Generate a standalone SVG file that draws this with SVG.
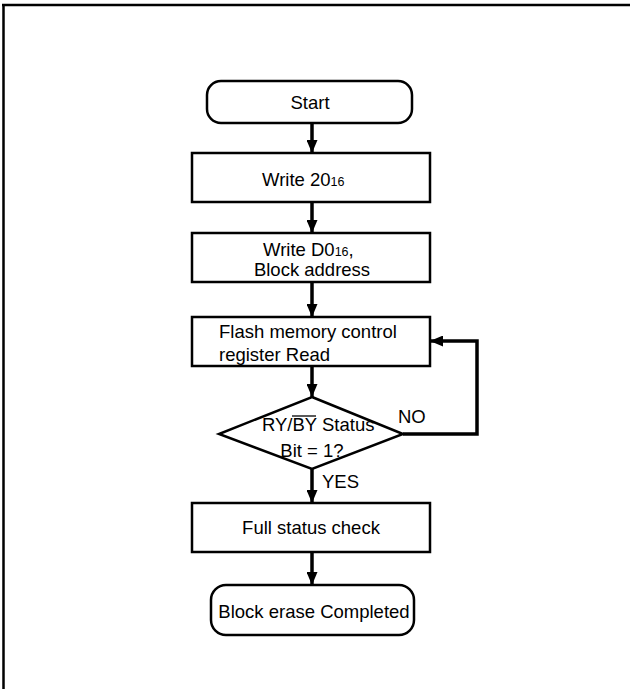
<svg xmlns="http://www.w3.org/2000/svg" width="630" height="689" viewBox="0 0 630 689">
<style>
.box{fill:#fff;stroke:#000;stroke-width:2.5}
.t{font-family:"Liberation Sans",Arial,sans-serif;font-size:18.5px;fill:#000}
.sub{font-size:12.5px}
.c{text-anchor:middle}
.ln{fill:none;stroke:#000;stroke-width:3.5}
</style>
<defs>
<marker id="ah" markerUnits="userSpaceOnUse" markerWidth="13" markerHeight="11" refX="13" refY="5.5" orient="auto" viewBox="0 0 13 11">
<path d="M0,0 L13,5.5 L0,11 z" fill="#000"/>
</marker>
</defs>
<g id="frame">
<path d="M2,5 H630 M3.5,5 V689" fill="none" stroke="#000" stroke-width="2.5"/>
</g>
<g id="connectors">
<line class="ln" x1="312" y1="123" x2="312" y2="153" marker-end="url(#ah)"/>
<line class="ln" x1="312" y1="202" x2="312" y2="233" marker-end="url(#ah)"/>
<line class="ln" x1="312" y1="282" x2="312" y2="317" marker-end="url(#ah)"/>
<line class="ln" x1="312" y1="366" x2="312" y2="397" marker-end="url(#ah)"/>
<line class="ln" x1="312" y1="469" x2="312" y2="503" marker-end="url(#ah)"/>
<line class="ln" x1="312" y1="552" x2="312" y2="585" marker-end="url(#ah)"/>
<polyline class="ln" points="403,434 477,434 477,341 430,341" marker-end="url(#ah)"/>
<text class="t" x="398" y="423">NO</text>
<text class="t" x="322" y="488">YES</text>
</g>
<g id="start">
<rect class="box" x="207" y="81" width="205" height="42" rx="14"/>
<text class="t c" x="310" y="109">Start</text>
</g>
<g id="write20">
<rect class="box" x="192" y="153" width="238" height="49"/>
<text class="t" x="262" y="186">Write 20<tspan class="sub">16</tspan></text>
</g>
<g id="writeD0">
<rect class="box" x="192" y="233" width="238" height="49"/>
<text class="t" x="263" y="256">Write D0<tspan class="sub">16</tspan>,</text>
<text class="t c" x="312" y="276">Block address</text>
</g>
<g id="read">
<rect class="box" x="192" y="317" width="238" height="49"/>
<text class="t" x="219" y="338">Flash memory control</text>
<text class="t" x="219" y="361">register Read</text>
</g>
<g id="decision">
<polygon class="box" points="312,397 403,434 312,469 219,434"/>
<text class="t" x="262" y="431">RY/BY Status</text>
<line x1="292" y1="416" x2="316" y2="416" stroke="#000" stroke-width="1.3"/>
<text class="t c" x="312" y="457">Bit = 1?</text>
</g>
<g id="fullcheck">
<rect class="box" x="192" y="503" width="238" height="49"/>
<text class="t c" x="311" y="534">Full status check</text>
</g>
<g id="end">
<rect class="box" x="211" y="585" width="203" height="50" rx="15"/>
<text class="t c" x="314" y="618">Block erase Completed</text>
</g>
</svg>
